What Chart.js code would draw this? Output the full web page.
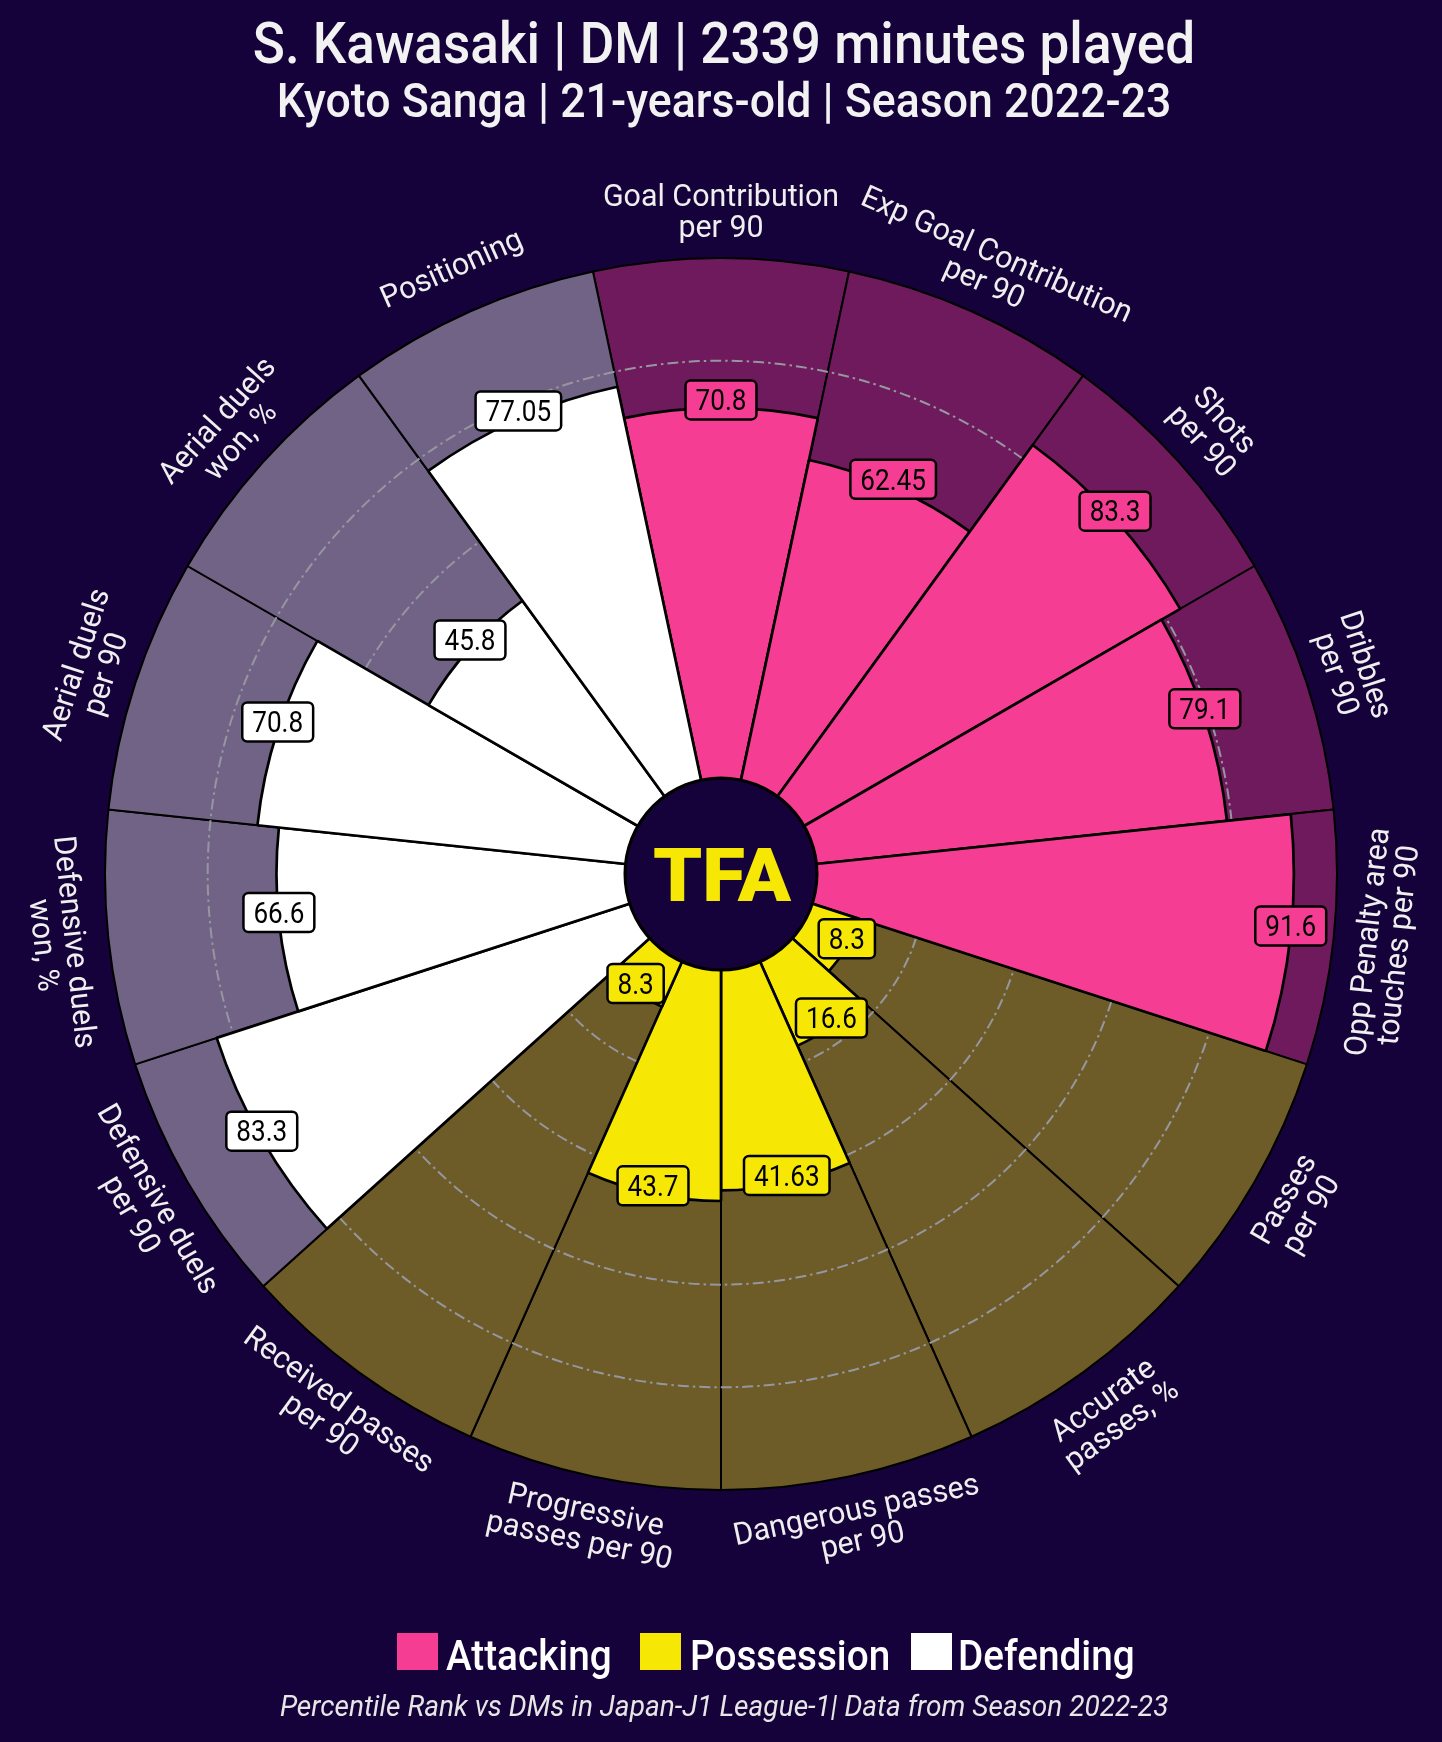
<!DOCTYPE html>
<html><head><meta charset="utf-8">
<script src="https://cdn.jsdelivr.net/npm/chart.js@4.4.0/dist/chart.umd.min.js"></script>
<style>
html,body{margin:0;padding:0;background:#16023a;}
#wrap{position:relative;width:1442px;height:1742px;overflow:hidden;background:#16023a;font-family:Roboto,sans-serif;}
canvas{position:absolute;left:0;top:0;}
.t{position:absolute;left:0;width:1448px;text-align:center;color:#f2f2f2;white-space:nowrap;line-height:1;}
.t span{display:inline-block;transform-origin:center;}
.lg{position:absolute;white-space:nowrap;line-height:1;color:#ffffff;font-weight:500;font-size:43px;transform:scaleX(0.9);transform-origin:left;}
.sq{position:absolute;width:41px;height:37px;}
</style></head>
<body><div id="wrap">
<canvas id="c" width="1442" height="1742"></canvas>
<div class="t" style="top:14px;font-size:58px;font-weight:500;"><span style="transform:scaleX(0.915)">S. Kawasaki | DM | 2339 minutes played</span></div>
<div class="t" style="top:77px;font-size:48px;font-weight:500;"><span style="transform:scaleX(0.93)">Kyoto Sanga | 21-years-old | Season 2022-23</span></div>
<div id="legend"></div>
<div class="t" style="top:1691px;font-size:30px;font-style:italic;color:#e6e6e6;"><span style="transform:scaleX(0.935)">Percentile Rank vs DMs in Japan-J1 League-1| Data from Season 2022-23</span></div>
</div>
<script>
// ---- data ----
const categories = [
  "Goal Contribution\nper 90",
  "Exp Goal Contribution\nper 90",
  "Shots\nper 90",
  "Dribbles\nper 90",
  "Opp Penalty area\ntouches per 90",
  "Passes\nper 90",
  "Accurate\npasses, %",
  "Dangerous passes\nper 90",
  "Progressive\npasses per 90",
  "Received passes\nper 90",
  "Defensive duels\nper 90",
  "Defensive duels\nwon, %",
  "Aerial duels\nper 90",
  "Aerial duels\nwon, %",
  "Positioning"
];
const values = [70.8, 62.45, 83.3, 79.1, 91.6, 8.3, 16.6, 41.63, 43.7, 8.3, 83.3, 66.6, 70.8, 45.8, 77.05];
const groups = ["Attacking","Attacking","Attacking","Attacking","Attacking",
  "Possession","Possession","Possession","Possession","Possession",
  "Defending","Defending","Defending","Defending","Defending"];
const groupNames = ["Attacking","Possession","Defending"];
const maxValue = 100;
const gridValues = [20, 40, 60, 80];

// ---- styles ----
const groupColors = {Attacking:"#F53D93", Possession:"#F6E804", Defending:"#FFFFFF"};
const groupBg = {Attacking:"#6E1A5C", Possession:"#6D5C28", Defending:"#706386"};
const bgColor = "#16023a";

// legend (HTML)
const legendPos = [{sq:397, tx:445.5},{sq:640, tx:690},{sq:911, tx:958}];
const lg = document.getElementById('legend');
groupNames.forEach((g,i)=>{
  const s = document.createElement('div'); s.className='sq';
  s.style.left = legendPos[i].sq+'px'; s.style.top='1633px'; s.style.background=groupColors[g];
  lg.appendChild(s);
  const t = document.createElement('div'); t.className='lg';
  t.style.left = legendPos[i].tx+'px'; t.style.top='1634px'; t.textContent=g;
  lg.appendChild(t);
});

const pizzaPlugin = {
  id: 'pizza',
  beforeDatasetDraw(chart, args) {
    if (args.index !== 0) return;
    const s = chart.scales.r, c = chart.ctx;
    c.save();
    c.strokeStyle = "rgba(150,150,160,1)";
    c.lineWidth = 2;
    c.setLineDash([11, 4, 2.5, 4]);
    gridValues.forEach(v => {
      const r = s.getDistanceFromCenterForValue(v);
      c.beginPath(); c.arc(s.xCenter, s.yCenter, r, 0, Math.PI * 2); c.stroke();
    });
    c.restore();
  },
  afterDatasetsDraw(chart) {
    const s = chart.scales.r, c = chart.ctx;
    const cx = s.xCenter, cy = s.yCenter;
    // center circle + logo
    c.save();
    c.beginPath(); c.arc(cx, cy, 96, 0, Math.PI * 2);
    c.fillStyle = bgColor; c.fill();
    c.lineWidth = 3; c.strokeStyle = "#000"; c.stroke();
    c.fillStyle = "#F6E804";
    c.font = "900 70px Roboto";
    c.textAlign = "center"; c.textBaseline = "alphabetic";
    const w = c.measureText("TFA").width;
    c.translate(cx + 1, cy + 27);
    c.scale(138 / w, 1.05);
    c.fillText("TFA", 0, 0);
    c.restore();

    // value labels
    const meta = chart.getDatasetMeta(0);
    const fs = 29, vsx = 0.9;
    meta.data.forEach((el, i) => {
      const p = el.getProps(['x','y','startAngle','endAngle','outerRadius'], true);
      const mid = (p.startAngle + p.endAngle) / 2;
      const px = p.x + Math.cos(mid) * p.outerRadius;
      const py = p.y + Math.sin(mid) * p.outerRadius - 8;
      const txt = String(values[i]);
      c.save();
      c.font = "400 " + fs + "px Roboto";
      const tw = c.measureText(txt).width * vsx;
      const bw = tw + 20, bh = 39;
      c.beginPath();
      c.roundRect(px - bw / 2, py - bh / 2, bw, bh, 5);
      c.fillStyle = groupColors[groups[i]]; c.fill();
      c.lineWidth = 2.5; c.strokeStyle = "#000"; c.stroke();
      c.translate(px, py + fs * 0.355);
      c.scale(vsx, 1);
      c.fillStyle = "#000"; c.textAlign = "center"; c.textBaseline = "alphabetic";
      c.fillText(txt, 0, 0);
      c.restore();
    });

    // category labels
    const bmeta = chart.getDatasetMeta(1);
    const lf = 31, lh = 31;
    bmeta.data.forEach((el, i) => {
      const p = el.getProps(['x','y','startAngle','endAngle','outerRadius'], true);
      const mid = (p.startAngle + p.endAngle) / 2;
      const r = p.outerRadius + 48;
      const px = p.x + Math.cos(mid) * r;
      const py = p.y + Math.sin(mid) * r;
      let deg = ((mid * 180 / Math.PI) + 90) % 360; if (deg < 0) deg += 360;
      let rot = (deg > 90 && deg < 270) ? deg - 180 : (deg >= 270 ? deg - 360 : deg);
      const lines = categories[i].split("\n");
      c.save();
      c.translate(px, py);
      c.rotate(rot * Math.PI / 180);
      c.scale(0.98, 1);
      c.font = "400 " + lf + "px Roboto";
      c.fillStyle = "#efefef"; c.textAlign = "center"; c.textBaseline = "alphabetic";
      lines.forEach((ln, k) => {
        const oy = (k - (lines.length - 1) / 2) * lh + lf * 0.355;
        c.fillText(ln, 0, oy);
      });
      c.restore();
    });
  }
};

new Chart(document.getElementById('c').getContext('2d'), {
  type: 'polarArea',
  data: {
    labels: categories,
    datasets: [
      { data: values, backgroundColor: values.map((v, i) => groupColors[groups[i]]), borderColor: "#000", borderWidth: 2.7 },
      { data: categories.map(() => maxValue), backgroundColor: categories.map((v, i) => groupBg[groups[i]]), borderColor: "#000", borderWidth: 2 }
    ]
  },
  options: {
    responsive: false, animation: false, events: [],
    layout: { padding: { left: 105, right: 105, top: 258, bottom: 252 } },
    scales: { r: { min: -20, max: 100, startAngle: -12,
      grid: { display: false }, angleLines: { display: false },
      ticks: { display: false }, pointLabels: { display: false } } },
    plugins: { legend: { display: false }, tooltip: { enabled: false } }
  },
  plugins: [pizzaPlugin]
});
</script>
</body></html>
